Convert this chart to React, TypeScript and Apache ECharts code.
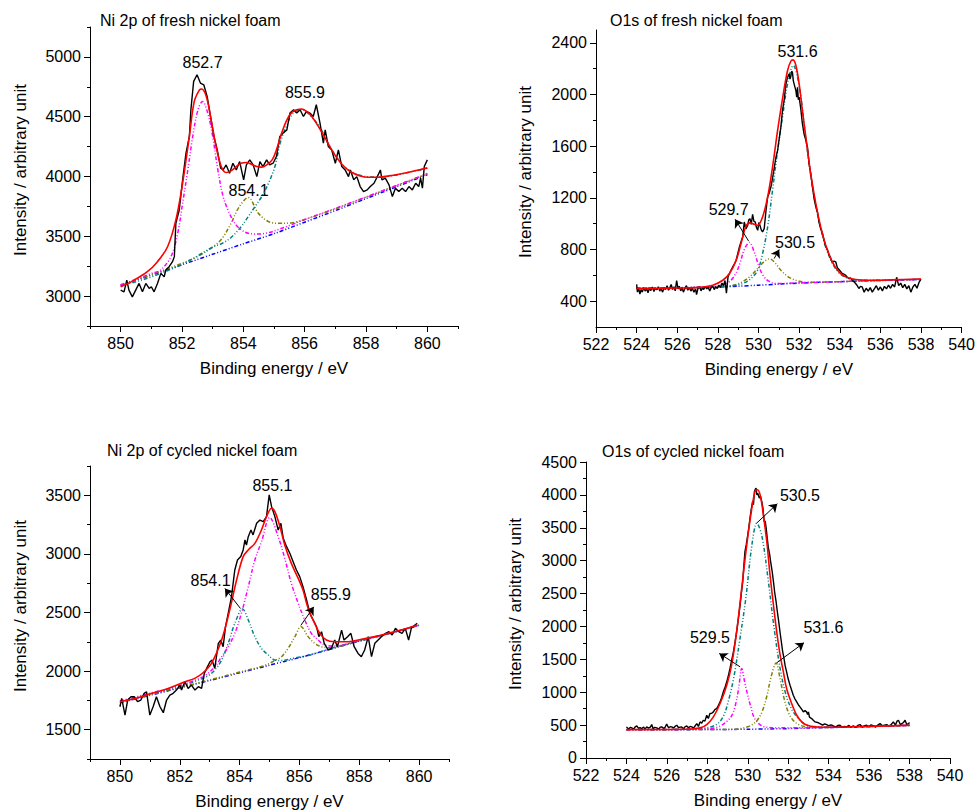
import React, { useEffect, useRef } from "react";
import * as echarts from "echarts";

type Pt = [number, number];

// ================= Ni 2p of fresh nickel foam =================
const ni1Raw: Pt[] = [
  [850.0, 3050], [850.11, 3036], [850.2, 3134], [850.27, 3050], [850.38, 2994], [850.49, 3050], [850.6, 3106],
  [850.71, 3036], [850.82, 3106], [850.93, 3064], [851.0, 3078], [851.09, 3036], [851.2, 3106], [851.31, 3190],
  [851.42, 3162], [851.47, 3218], [851.58, 3246], [851.69, 3288], [851.75, 3330], [851.8, 3609], [851.91, 3720],
  [852.02, 3972], [852.13, 4195], [852.24, 4335], [852.29, 4558], [852.38, 4795], [852.49, 4851], [852.6, 4781],
  [852.71, 4767], [852.82, 4670], [852.93, 4502], [853.04, 4335], [853.15, 4223], [853.26, 4069], [853.34, 4055],
  [853.44, 4097], [853.55, 4027], [853.66, 4111], [853.77, 4055], [853.88, 4125], [854.01, 3972], [854.1, 4097],
  [854.21, 4139], [854.32, 4097], [854.44, 3999], [854.54, 4125], [854.64, 4083], [854.76, 4139], [854.86, 4097],
  [854.97, 4111], [855.08, 4167], [855.19, 4335], [855.3, 4363], [855.42, 4390], [855.52, 4530], [855.64, 4558],
  [855.74, 4530], [855.85, 4558], [855.96, 4502], [856.06, 4544], [856.17, 4530], [856.28, 4502], [856.38, 4600],
  [856.5, 4446], [856.61, 4279], [856.67, 4390], [856.77, 4251], [856.88, 4223], [857.0, 4111], [857.1, 4223],
  [857.21, 4083], [857.32, 4055], [857.43, 3999], [857.49, 4055], [857.6, 3972], [857.7, 3999], [857.81, 3916],
  [857.92, 3874], [858.04, 3888], [858.14, 3916], [858.26, 3944], [858.37, 3999], [858.47, 4055], [858.52, 3972],
  [858.63, 3986], [858.75, 3930], [858.86, 3832], [858.96, 3902], [859.07, 3874], [859.18, 3902], [859.29, 3874],
  [859.4, 3916], [859.51, 3888], [859.62, 3944], [859.72, 3916], [859.78, 3986], [859.84, 3902], [859.9, 4083],
  [860.0, 4139],
];
const ni1Fit: Pt[] = [
  [850.0, 3078], [850.44, 3134], [850.87, 3204], [851.2, 3288], [851.53, 3413], [851.8, 3637], [852.02, 3944],
  [852.24, 4335], [852.4, 4628], [852.57, 4725], [852.64, 4731], [852.79, 4670], [852.95, 4474], [853.11, 4251],
  [853.28, 4083], [853.44, 4033], [853.6, 4047], [853.77, 4083], [853.93, 4111], [854.1, 4117], [854.26, 4103],
  [854.44, 4083], [854.6, 4078], [854.76, 4097], [854.94, 4139], [855.08, 4223], [855.25, 4363], [855.42, 4474],
  [855.58, 4536], [855.74, 4558], [855.9, 4564], [856.06, 4544], [856.23, 4502], [856.45, 4418], [856.67, 4321],
  [856.88, 4223], [857.1, 4139], [857.32, 4075], [857.54, 4033], [857.81, 4005], [858.08, 3994], [858.41, 3994],
  [858.75, 4005], [859.07, 4019], [859.4, 4036], [859.72, 4055], [860.0, 4072],
];
const ni1Base: Pt[] = [
  [850, 3090], [851, 3175], [852, 3262], [853, 3350], [854, 3437], [855, 3522], [856, 3618], [857, 3715],
  [858, 3815], [859, 3915], [860, 4015],
];
const ni1Peak8527: Pt[] = [
  [850, 3095], [850.5, 3140], [851, 3190], [851.3, 3218], [851.64, 3330], [851.86, 3525], [852.02, 3776],
  [852.19, 4055], [852.35, 4335], [852.52, 4558], [852.67, 4628], [852.84, 4530], [853.0, 4335], [853.17, 4055],
  [853.34, 3832], [853.5, 3720], [853.72, 3609], [853.94, 3553], [854.16, 3525], [854.49, 3519], [854.82, 3530],
  [855.15, 3558], [855.5, 3590], [856, 3640], [857, 3733], [858, 3828], [859, 3925], [860, 4022],
];
const ni1Peak8541: Pt[] = [
  [850, 3092], [851, 3180], [852, 3275], [852.5, 3330], [853, 3410], [853.3, 3480], [853.6, 3609], [853.85, 3740],
  [854.16, 3824], [854.49, 3692], [854.82, 3623], [855.15, 3609], [855.6, 3614], [856, 3640], [857, 3730],
  [858, 3828], [859, 3925], [860, 4025],
];
const ni1Peak8559: Pt[] = [
  [850, 3085], [850.5, 3120], [851, 3160], [851.5, 3210], [852, 3265], [852.5, 3335], [853, 3410], [853.3, 3440],
  [853.6, 3490], [853.93, 3581], [854.16, 3665], [854.38, 3748], [854.6, 3832], [854.82, 3944], [855.03, 4083],
  [855.2, 4279], [855.4, 4418], [855.6, 4520], [855.9, 4560], [856.2, 4505], [856.5, 4410], [856.8, 4260],
  [857.1, 4140], [857.4, 4060], [857.8, 4010], [858.2, 3995], [858.8, 4005], [859.4, 4035], [860, 4068],
];
const ni1Labels = [
  { name: "852.7", value: [852.67, 4951] },
  { name: "855.9", value: [856.01, 4700] },
  { name: "854.1", value: [854.17, 3882] },
];
const ni1Arrows: number[][] = [];

// ================= O1s of fresh nickel foam =================
const o1Raw: Pt[] = [
  [524.0, 530], [524.04, 470], [524.1, 500], [524.16, 455], [524.22, 490], [524.28, 470], [524.35, 505],
  [524.42, 478], [524.5, 495], [524.56, 465], [524.63, 500], [524.7, 482], [524.78, 510], [524.85, 475],
  [524.92, 500], [525.0, 488], [525.07, 512], [525.14, 478], [525.2, 500], [525.28, 470], [525.35, 505],
  [525.42, 490], [525.5, 520], [525.57, 485], [525.64, 505], [525.7, 530], [525.77, 490], [525.84, 512],
  [525.9, 480], [525.97, 560], [526.04, 495], [526.1, 515], [526.17, 480], [526.24, 505], [526.3, 470],
  [526.38, 500], [526.45, 520], [526.52, 485], [526.6, 505], [526.67, 478], [526.74, 500], [526.82, 470],
  [526.9, 495], [526.95, 450], [527.02, 500], [527.1, 512], [527.17, 480], [527.24, 505], [527.3, 490],
  [527.38, 515], [527.45, 495], [527.52, 508], [527.6, 480], [527.67, 505], [527.74, 520], [527.82, 490],
  [527.9, 512], [527.97, 498], [528.05, 525], [528.12, 505], [528.2, 540], [528.28, 520], [528.35, 560],
  [528.42, 462], [528.5, 590], [528.57, 614], [528.65, 640], [528.73, 665], [528.82, 690], [528.9, 717],
  [528.98, 770], [529.06, 820], [529.14, 860], [529.22, 897], [529.3, 1013], [529.38, 960], [529.47, 988],
  [529.52, 1030], [529.58, 1039], [529.64, 995], [529.71, 1073], [529.77, 1020], [529.84, 1013], [529.9, 970],
  [529.96, 949], [530.02, 1010], [530.07, 988], [530.14, 950], [530.2, 936], [530.28, 962], [530.37, 1104],
  [530.45, 1207], [530.53, 1240], [530.61, 1284], [530.7, 1360], [530.78, 1439], [530.86, 1516], [530.94, 1567],
  [531.02, 1660], [531.1, 1748], [531.18, 1877], [531.26, 1954], [531.35, 2083], [531.43, 2134], [531.51, 2160],
  [531.55, 2120], [531.59, 2140], [531.63, 2180], [531.67, 2173], [531.71, 2110], [531.75, 2083], [531.79, 2060],
  [531.84, 2031], [531.88, 1980], [531.92, 2057], [531.96, 1960], [532.0, 1980], [532.08, 1890], [532.16, 1774],
  [532.24, 1696], [532.33, 1645], [532.41, 1593], [532.49, 1464], [532.57, 1387], [532.65, 1290], [532.74, 1190],
  [532.82, 1130], [532.9, 1090], [532.98, 1010], [533.06, 960], [533.14, 930], [533.23, 870], [533.31, 820],
  [533.39, 800], [533.47, 760], [533.55, 735], [533.63, 700], [533.72, 710], [533.8, 705], [533.88, 660],
  [533.96, 645], [534.04, 630], [534.12, 614], [534.2, 610], [534.29, 601], [534.37, 585], [534.45, 575],
  [534.53, 580], [534.61, 562], [534.7, 550], [534.78, 537], [534.86, 520], [534.94, 498], [535.02, 515],
  [535.1, 511], [535.2, 470], [535.3, 500], [535.4, 478], [535.5, 505], [535.6, 470], [535.7, 495], [535.8, 520],
  [535.9, 485], [536.0, 510], [536.1, 480], [536.2, 515], [536.3, 495], [536.4, 525], [536.5, 500], [536.6, 530],
  [536.7, 510], [536.8, 585], [536.9, 520], [537.0, 540], [537.1, 505], [537.2, 530], [537.3, 495], [537.4, 520],
  [537.5, 470], [537.6, 510], [537.7, 530], [537.8, 500], [537.9, 545], [538.0, 570],
];
const o1Fit: Pt[] = [
  [524, 498], [525, 500], [526, 502], [526.9, 505], [527.75, 524], [528.24, 562], [528.57, 614], [528.9, 717],
  [529.14, 846], [529.38, 980], [529.58, 1006], [529.8, 995], [529.96, 988], [530.2, 1052], [530.45, 1207],
  [530.69, 1439], [530.94, 1722], [531.18, 1967], [531.43, 2186], [531.59, 2258], [531.7, 2269], [531.84, 2225],
  [532.0, 2083], [532.16, 1877], [532.33, 1670], [532.57, 1387], [532.82, 1155], [533.06, 975], [533.31, 833],
  [533.63, 704], [533.96, 627], [534.29, 588], [534.78, 568], [535.43, 562], [536.5, 565], [538, 572],
];
const o1Base: Pt[] = [
  [524, 500], [526, 503], [528, 510], [529, 516], [530, 524], [531, 532], [532, 540], [533, 546], [534, 551],
  [535, 556], [536, 560], [537, 564], [538, 568],
];
const o1Peak5297: Pt[] = [
  [524, 500], [526, 505], [527.5, 511], [528.2, 525], [528.6, 555], [528.9, 620], [529.1, 700], [529.3, 800],
  [529.55, 855], [529.8, 775], [530.0, 680], [530.2, 605], [530.5, 555], [530.9, 536], [532, 542], [534, 551],
  [536, 561], [538, 568],
];
const o1Peak5305: Pt[] = [
  [524, 500], [527, 506], [528.5, 515], [529.0, 535], [529.5, 580], [530.0, 660], [530.3, 710], [530.55, 728],
  [530.8, 700], [531.1, 640], [531.5, 585], [532, 555], [532.5, 546], [533, 547], [534, 551], [536, 561], [538, 568],
];
const o1Peak5316: Pt[] = [
  [524, 500], [527, 506], [528.57, 516], [529.22, 537], [529.63, 575], [529.96, 640], [530.2, 768], [530.45, 975],
  [530.69, 1258], [530.94, 1567], [531.18, 1825], [531.45, 2100], [531.71, 2225], [532.0, 2070], [532.33, 1660],
  [532.57, 1375], [532.82, 1145], [533.06, 965], [533.31, 820], [533.63, 695], [533.96, 620], [534.29, 585],
  [534.78, 565], [535.5, 562], [536.5, 564], [538, 570],
];
const o1Labels = [
  { name: "531.6", value: [531.92, 2335] },
  { name: "529.7", value: [528.53, 1111] },
  { name: "530.5", value: [531.8, 858] },
];
const o1Arrows: number[][] = [
  [529.51, 866, 528.85, 1034],
  [530.77, 730, 531.02, 800],
];

// ================= Ni 2p of cycled nickel foam =================
const ni2Raw: Pt[] = [
  [850.0, 1696], [850.06, 1767], [850.17, 1625], [850.26, 1753], [850.37, 1781], [850.48, 1781], [850.59, 1739],
  [850.7, 1753], [850.81, 1810], [850.89, 1824], [851.0, 1625], [851.11, 1696], [851.22, 1781], [851.34, 1696],
  [851.45, 1645], [851.56, 1753], [851.67, 1796], [851.78, 1810], [851.89, 1838], [852.0, 1881], [852.06, 1838],
  [852.17, 1909], [852.28, 1852], [852.39, 1881], [852.51, 1838], [852.62, 1867], [852.73, 1852], [852.82, 1980],
  [852.9, 2023], [853.01, 2080], [853.08, 2094], [853.17, 2023], [853.29, 2236], [853.37, 2265], [853.45, 2208],
  [853.53, 2379], [853.62, 2493], [853.73, 2635], [853.84, 2863], [853.93, 2948], [854.04, 2977], [854.12, 3034],
  [854.18, 3119], [854.23, 3076], [854.29, 3147], [854.38, 3204], [854.45, 3162], [854.57, 3261], [854.68, 3289],
  [854.79, 3275], [854.9, 3318], [854.99, 3503], [855.07, 3403], [855.18, 3318], [855.29, 3204], [855.38, 3261],
  [855.46, 3133], [855.57, 3062], [855.68, 3005], [855.79, 2934], [855.9, 2863], [856.01, 2806], [856.12, 2721],
  [856.24, 2607], [856.35, 2493], [856.46, 2436], [856.57, 2379], [856.65, 2294], [856.74, 2336], [856.83, 2237],
  [856.96, 2180], [857.07, 2194], [857.18, 2265], [857.27, 2208], [857.41, 2350], [857.49, 2265], [857.61, 2294],
  [857.72, 2322], [857.83, 2208], [857.96, 2151], [858.07, 2123], [858.18, 2180], [858.3, 2294], [858.41, 2123],
  [858.52, 2237], [858.63, 2265], [858.74, 2294], [858.88, 2322], [858.99, 2336], [859.1, 2308], [859.21, 2365],
  [859.32, 2336], [859.43, 2322], [859.54, 2365], [859.65, 2265], [859.74, 2365], [859.86, 2393], [859.94, 2407],
];
const ni2Fit: Pt[] = [
  [850, 1739], [850.5, 1767], [851.06, 1810], [851.61, 1852], [852.17, 1909], [852.5, 1938], [852.78, 1986],
  [853.06, 2066], [853.4, 2265], [853.67, 2521], [853.9, 2777], [854.12, 2977], [854.29, 3034], [854.51, 3090],
  [854.73, 3204], [854.9, 3318], [855.07, 3389], [855.18, 3361], [855.35, 3232], [855.51, 3076], [855.73, 2919],
  [855.96, 2791], [856.12, 2692], [856.24, 2578], [856.35, 2493], [856.51, 2408], [856.68, 2322], [856.9, 2265],
  [857.18, 2251], [857.63, 2251], [858.07, 2271], [858.52, 2294], [858.96, 2322], [859.41, 2351], [859.94, 2393],
];
const ni2Base: Pt[] = [
  [850, 1730], [851, 1793], [852, 1857], [853, 1920], [854, 1985], [855, 2050], [856, 2115], [857, 2185],
  [858, 2255], [859, 2320], [860, 2390],
];
const ni2Peak8541: Pt[] = [
  [850, 1740], [851, 1803], [852, 1868], [852.6, 1922], [852.95, 1960], [853.17, 2009], [853.4, 2094],
  [853.62, 2237], [853.84, 2407], [854.1, 2530], [854.29, 2436], [854.51, 2294], [854.73, 2194], [854.96, 2137],
  [855.18, 2094], [855.4, 2090], [855.8, 2110], [856.4, 2140], [857, 2190], [858, 2258], [859, 2322], [860, 2392],
];
const ni2Peak8551: Pt[] = [
  [850, 1745], [851, 1810], [852, 1878], [852.8, 1955], [853.17, 2037], [853.4, 2123], [853.62, 2208],
  [853.84, 2322], [854.06, 2493], [854.29, 2719], [854.51, 2947], [854.73, 3103], [855.01, 3310], [855.29, 3147],
  [855.51, 2962], [855.73, 2748], [855.96, 2578], [856.18, 2436], [856.4, 2322], [856.63, 2265], [856.85, 2222],
  [857.2, 2215], [858, 2262], [859, 2323], [860, 2393],
];
const ni2Peak8559: Pt[] = [
  [850, 1735], [851, 1797], [852, 1860], [853, 1925], [854, 1992], [854.8, 2045], [855.18, 2090], [855.4, 2123],
  [855.62, 2194], [855.85, 2294], [856.05, 2380], [856.29, 2294], [856.51, 2237], [856.74, 2208], [857, 2200],
  [858, 2258], [859, 2321], [860, 2391],
];
const ni2Labels = [
  { name: "855.1", value: [855.1, 3582] },
  { name: "854.1", value: [853.03, 2776] },
  { name: "855.9", value: [857.05, 2654] },
];
const ni2Arrows: number[][] = [
  [854.03, 2534, 853.51, 2705],
  [856.05, 2391, 856.48, 2548],
];

// ================= O1s of cycled nickel foam =================
const o2Raw: Pt[] = [
  [524.0, 473], [524.1, 440], [524.2, 465], [524.26, 458], [524.35, 435], [524.42, 470], [524.51, 488],
  [524.6, 450], [524.67, 462], [524.75, 447], [524.85, 470], [524.92, 440], [525.0, 473], [525.1, 455],
  [525.18, 470], [525.25, 508], [525.32, 445], [525.4, 465], [525.5, 458], [525.6, 440], [525.67, 470],
  [525.74, 473], [525.85, 450], [525.92, 470], [525.99, 518], [526.08, 460], [526.16, 475], [526.24, 473],
  [526.33, 455], [526.4, 480], [526.49, 498], [526.57, 460], [526.65, 470], [526.73, 473], [526.82, 445],
  [526.9, 475], [526.98, 488], [527.07, 460], [527.15, 480], [527.23, 473], [527.32, 455], [527.4, 490],
  [527.48, 523], [527.56, 480], [527.64, 549], [527.72, 530], [527.8, 574], [527.88, 560], [527.97, 650],
  [528.05, 600], [528.13, 676], [528.22, 680], [528.3, 701], [528.38, 740], [528.46, 752], [528.55, 800],
  [528.63, 853], [528.71, 920], [528.79, 1006], [528.88, 1080], [528.96, 1158], [529.04, 1250], [529.12, 1361],
  [529.2, 1480], [529.29, 1615], [529.37, 1760], [529.45, 1920], [529.54, 2130], [529.62, 2326], [529.68, 2500],
  [529.75, 2680], [529.8, 2900], [529.86, 3138], [529.93, 3250], [530.0, 3391], [530.05, 3500], [530.11, 3646],
  [530.17, 3780], [530.24, 3900], [530.28, 3850], [530.33, 4052], [530.38, 4090], [530.41, 4103], [530.45, 4000],
  [530.49, 4027], [530.53, 3990], [530.57, 3951], [530.63, 3980], [530.69, 3900], [530.75, 3800], [530.81, 3595],
  [530.86, 3600], [530.91, 3494], [530.96, 3350], [531.02, 3189], [531.08, 3100], [531.13, 2986], [531.2, 2850],
  [531.27, 2681], [531.33, 2520], [531.4, 2376], [531.46, 2230], [531.53, 2072], [531.6, 1900], [531.66, 1767],
  [531.72, 1630], [531.79, 1513], [531.85, 1400], [531.92, 1310], [532.0, 1200], [532.09, 1107], [532.17, 1030],
  [532.25, 955], [532.33, 900], [532.42, 853], [532.5, 810], [532.58, 777], [532.67, 740], [532.75, 701],
  [532.83, 720], [532.91, 701], [532.96, 660], [533.0, 700], [533.05, 620], [533.16, 599], [533.25, 570],
  [533.33, 549], [533.45, 540], [533.57, 523], [533.7, 500], [533.8, 520], [533.9, 508], [534.0, 490],
  [534.12, 505], [534.23, 488], [534.35, 470], [534.45, 495], [534.56, 498], [534.68, 465], [534.78, 480],
  [534.89, 473], [535.0, 495], [535.1, 470], [535.22, 488], [535.33, 465], [535.44, 495], [535.55, 508],
  [535.66, 470], [535.77, 490], [535.88, 498], [536.0, 475], [536.1, 505], [536.21, 488], [536.32, 470],
  [536.43, 500], [536.54, 523], [536.65, 490], [536.76, 500], [536.87, 508], [536.98, 485], [537.09, 510],
  [537.2, 549], [537.3, 500], [537.38, 560], [537.45, 574], [537.55, 505], [537.62, 523], [537.7, 540],
  [537.78, 574], [537.86, 510], [537.95, 523], [538.0, 540],
];
const o2Fit: Pt[] = [
  [524, 432], [526.98, 437], [527.64, 458], [527.97, 508], [528.3, 625], [528.63, 828], [528.96, 1107],
  [529.2, 1412], [529.45, 1920], [529.7, 2580], [529.95, 3240], [530.2, 3798], [530.36, 4052], [530.47, 4078],
  [530.61, 4001], [530.77, 3697], [530.94, 3291], [531.1, 2783], [531.27, 2326], [531.43, 1920], [531.6, 1564],
  [531.76, 1310], [531.92, 1056], [532.17, 828], [532.42, 650], [532.67, 549], [532.91, 500], [533.24, 475],
  [533.74, 468], [534.5, 470], [535.22, 475], [536, 481], [537, 489], [538, 497],
];
const o2Base: Pt[] = [
  [524, 428], [526, 430], [528, 432], [529, 434], [530, 437], [531, 442], [532, 447], [533, 455], [534, 462],
  [535, 470], [536, 478], [537, 487], [538, 495],
];
const o2Peak5295: Pt[] = [
  [524, 430], [527, 436], [528, 444], [528.5, 468], [528.9, 540], [529.2, 640], [529.4, 820], [529.55, 1060],
  [529.7, 1360], [529.85, 1150], [530.0, 950], [530.15, 780], [530.3, 625], [530.55, 520], [530.8, 476],
  [531.5, 458], [533, 460], [535, 472], [538, 496],
];
const o2Peak5305: Pt[] = [
  [524, 432], [527, 440], [528, 460], [528.5, 520], [528.8, 640], [529.0, 820], [529.3, 1210], [529.6, 1790],
  [529.9, 2420], [530.2, 3230], [530.45, 3570], [530.7, 3370], [531.0, 2730], [531.3, 1980], [531.6, 1360],
  [531.9, 950], [532.2, 725], [532.5, 600], [532.8, 520], [533.2, 482], [534, 470], [536, 480], [538, 496],
];
const o2Peak5316: Pt[] = [
  [524, 430], [528, 433], [529.3, 437], [530.0, 475], [530.4, 550], [530.7, 700], [530.95, 950], [531.15, 1230],
  [531.4, 1445], [531.6, 1200], [531.8, 900], [532.0, 700], [532.2, 590], [532.5, 510], [532.9, 475],
  [533.5, 462], [535, 472], [538, 496],
];
const o2Labels = [
  { name: "530.5", value: [532.58, 3992] },
  { name: "529.5", value: [528.13, 1828] },
  { name: "531.6", value: [533.74, 1984] },
];
const o2Arrows: number[][] = [
  [530.44, 3571, 531.46, 3865],
  [529.62, 1386, 528.59, 1590],
  [531.43, 1447, 532.78, 1752],
];

// ================= Axis ticks =================
const niXTicks = [850, 852, 854, 856, 858, 860];
const niXMinor = [849, 851, 853, 855, 857, 859, 861];
const oXTicks = [522, 524, 526, 528, 530, 532, 534, 536, 538, 540];
const oXMinor = [523, 525, 527, 529, 531, 533, 535, 537, 539];
const ni1YTicks = [3000, 3500, 4000, 4500, 5000];
const ni1YMinor = [2750, 3250, 3750, 4250, 4750, 5250];
const o1YTicks = [400, 800, 1200, 1600, 2000, 2400];
const o1YMinor = [600, 1000, 1400, 1800, 2200];
const ni2YTicks = [1500, 2000, 2500, 3000, 3500];
const ni2YMinor = [1250, 1750, 2250, 2750, 3250, 3750];
const o2YTicks = [0, 500, 1000, 1500, 2000, 2500, 3000, 3500, 4000, 4500];
const o2YMinor = [250, 750, 1250, 1750, 2250, 2750, 3250, 3750, 4250];

const RED = "#FF0000";
const MAGENTA = "#FF00FF";
const TEAL = "#008080";
const OLIVE = "#808000";
const BLUE = "#0000FF";
const FONT = '"Liberation Sans", Arial, Helvetica, sans-serif';
const DASH = [4, 2, 1, 2, 1, 2];
const Y_LABEL_MARGIN = 9;

const panels = [
  {
    title: "Ni 2p of fresh nickel foam",
    titlePos: [100, 20],
    yNamePos: [20, 170],
    grid: { left: 90, top: 27, width: 368, height: 299 },
    xr: [849, 861], yr: [2750, 5250],
    xMajor: niXTicks, xMinor: niXMinor, yMajor: ni1YTicks, yMinor: ni1YMinor,
    raw: ni1Raw, fit: ni1Fit, base: ni1Base,
    comps: [
      { data: ni1Peak8541, color: OLIVE },
      { data: ni1Peak8559, color: TEAL },
      { data: ni1Peak8527, color: MAGENTA },
    ],
    labels: ni1Labels, arrows: ni1Arrows,
  },
  {
    title: "O1s of fresh nickel foam",
    titlePos: [610, 20],
    yNamePos: [525, 172],
    grid: { left: 596, top: 30, width: 367, height: 297 },
    xr: [522, 540], yr: [200, 2500],
    xMajor: oXTicks, xMinor: oXMinor, yMajor: o1YTicks, yMinor: o1YMinor,
    raw: o1Raw, fit: o1Fit, base: o1Base,
    comps: [
      { data: o1Peak5305, color: OLIVE },
      { data: o1Peak5316, color: TEAL },
      { data: o1Peak5297, color: MAGENTA },
    ],
    labels: o1Labels, arrows: o1Arrows,
  },
  {
    title: "Ni 2p of cycled nickel foam",
    titlePos: [107, 450],
    yNamePos: [20, 606],
    grid: { left: 90, top: 466, width: 359, height: 293 },
    xr: [849, 861], yr: [1250, 3750],
    xMajor: niXTicks, xMinor: niXMinor, yMajor: ni2YTicks, yMinor: ni2YMinor,
    raw: ni2Raw, fit: ni2Fit, base: ni2Base,
    comps: [
      { data: ni2Peak8559, color: OLIVE },
      { data: ni2Peak8541, color: TEAL },
      { data: ni2Peak8551, color: MAGENTA },
    ],
    labels: ni2Labels, arrows: ni2Arrows,
  },
  {
    title: "O1s of cycled nickel foam",
    titlePos: [602, 451],
    yNamePos: [515, 604],
    grid: { left: 586, top: 462, width: 364, height: 296 },
    xr: [522, 540], yr: [0, 4500],
    xMajor: oXTicks, xMinor: oXMinor, yMajor: o2YTicks, yMinor: o2YMinor,
    raw: o2Raw, fit: o2Fit, base: o2Base,
    comps: [
      { data: o2Peak5316, color: OLIVE },
      { data: o2Peak5305, color: TEAL },
      { data: o2Peak5295, color: MAGENTA },
    ],
    labels: o2Labels, arrows: o2Arrows,
  },
];

// the y label lying exactly on the axis origin is suppressed by ECharts; it is written beside the grid corner
const originLabel = (p: (typeof panels)[number]) => p.yMajor[0] === p.yr[0];

function buildOption() {
  const grid: any[] = [];
  const xAxis: any[] = [];
  const yAxis: any[] = [];
  const series: any[] = [];
  const graphic: any[] = [];
  const tickText = {
    fontSize: 16, color: "#000", fontFamily: FONT,
    formatter: (v: number) => String(v), showMinLabel: true, showMaxLabel: true, hideOverlap: false,
  };
  const lineBlack = { color: "#000", width: 1 };

  panels.forEach((p, i) => {
    grid.push({ ...p.grid, containLabel: false });
    xAxis.push({
      type: "value", gridIndex: i, position: "bottom", min: p.xr[0], max: p.xr[1],
      axisLine: { show: true, onZero: false, lineStyle: lineBlack },
      axisTick: { show: true, length: 3, customValues: p.xMinor, lineStyle: lineBlack },
      axisLabel: { show: false }, splitLine: { show: false },
    });
    xAxis.push({
      type: "value", gridIndex: i, position: "bottom", min: p.xr[0], max: p.xr[1],
      axisLine: { show: false, onZero: false },
      axisTick: { show: true, length: 6, customValues: p.xMajor, lineStyle: lineBlack },
      axisLabel: { show: true, customValues: p.xMajor, margin: 9, ...tickText },
      splitLine: { show: false },
      name: "Binding energy / eV", nameLocation: "middle", nameGap: 34,
      nameTextStyle: { fontSize: 17, color: "#000", fontFamily: FONT },
    });
    yAxis.push({
      type: "value", gridIndex: i, position: "left", min: p.yr[0], max: p.yr[1],
      axisLine: { show: true, onZero: false, lineStyle: lineBlack },
      axisTick: { show: true, length: 3, customValues: p.yMinor, lineStyle: lineBlack },
      axisLabel: { show: false }, splitLine: { show: false },
    });
    const labelVals = originLabel(p) ? p.yMajor.slice(1) : p.yMajor;
    yAxis.push({
      type: "value", gridIndex: i, position: "left", min: p.yr[0], max: p.yr[1],
      axisLine: { show: false, onZero: false },
      axisTick: { show: true, length: 6, customValues: p.yMajor, lineStyle: lineBlack },
      axisLabel: { show: true, customValues: labelVals, margin: Y_LABEL_MARGIN, ...tickText },
      splitLine: { show: false },
    });
    const xi = 2 * i;
    const yi = 2 * i;
    const common = {
      type: "line", xAxisIndex: xi, yAxisIndex: yi, showSymbol: false, symbol: "none",
      silent: true, animation: false,
    };
    series.push({ ...common, data: p.base, smooth: 0.3, lineStyle: { color: BLUE, width: 1.5, type: DASH } });
    p.comps.forEach((c) => {
      series.push({ ...common, data: c.data, smooth: 0.35, lineStyle: { color: c.color, width: 1.5, type: DASH } });
    });
    series.push({ ...common, data: p.raw, smooth: false, lineStyle: { color: "#000", width: 1.4 } });
    series.push({ ...common, data: p.fit, smooth: 0.35, lineStyle: { color: RED, width: 1.6 } });
    series.push({
      type: "scatter", xAxisIndex: xi, yAxisIndex: yi, silent: true, animation: false,
      symbol: "circle", symbolSize: 2, itemStyle: { color: "rgba(255,255,255,0)" },
      data: p.labels,
      label: {
        show: true, position: "inside", formatter: "{b}", fontSize: 16, color: "#000",
        fontFamily: FONT, opacity: 1,
      },
      labelLayout: { hideOverlap: false },
      markLine: {
        silent: true, animation: false, symbol: ["none", "arrow"], symbolSize: 8,
        lineStyle: { color: "#000", width: 1, type: "solid" },
        label: { show: false },
        data: p.arrows.map((a) => [{ coord: [a[0], a[1]] }, { coord: [a[2], a[3]] }]),
      },
    });
    graphic.push({
      type: "text", x: p.titlePos[0], y: p.titlePos[1],
      style: { text: p.title, fontSize: 16, fontFamily: FONT, fill: "#000", align: "left", verticalAlign: "middle" },
    });
    graphic.push({
      type: "text", x: p.yNamePos[0], y: p.yNamePos[1], rotation: Math.PI / 2,
      style: {
        text: "Intensity / arbitrary unit", fontSize: 17, fontFamily: FONT, fill: "#000",
        align: "center", verticalAlign: "middle",
      },
    });
  });

  return {
    animation: false,
    backgroundColor: "#fff",
    grid, xAxis, yAxis, series, graphic,
  };
}

export default function App() {
  const ref = useRef<HTMLDivElement>(null);
  useEffect(() => {
    if (!ref.current) return;
    const chart = echarts.init(ref.current, undefined, { renderer: "svg" });
    chart.setOption(buildOption() as any);
    return () => chart.dispose();
  }, []);
  const corner = panels.filter(originLabel);
  return (
    <>
      <div
        ref={ref}
        style={{ position: "fixed", left: 0, top: 0, width: 978, height: 812, background: "#fff" }}
      />
      {corner.map((p, k) => (
        <div
          key={k}
          style={{
            position: "fixed", left: 0, top: p.grid.top + p.grid.height - 8,
            width: p.grid.left - Y_LABEL_MARGIN, height: 16, lineHeight: "16px",
            textAlign: "right", fontSize: 16, fontFamily: FONT, color: "#000",
            zIndex: 10, pointerEvents: "none", margin: 0, padding: 0,
          }}
        >
          {String(p.yr[0])}
        </div>
      ))}
    </>
  );
}
